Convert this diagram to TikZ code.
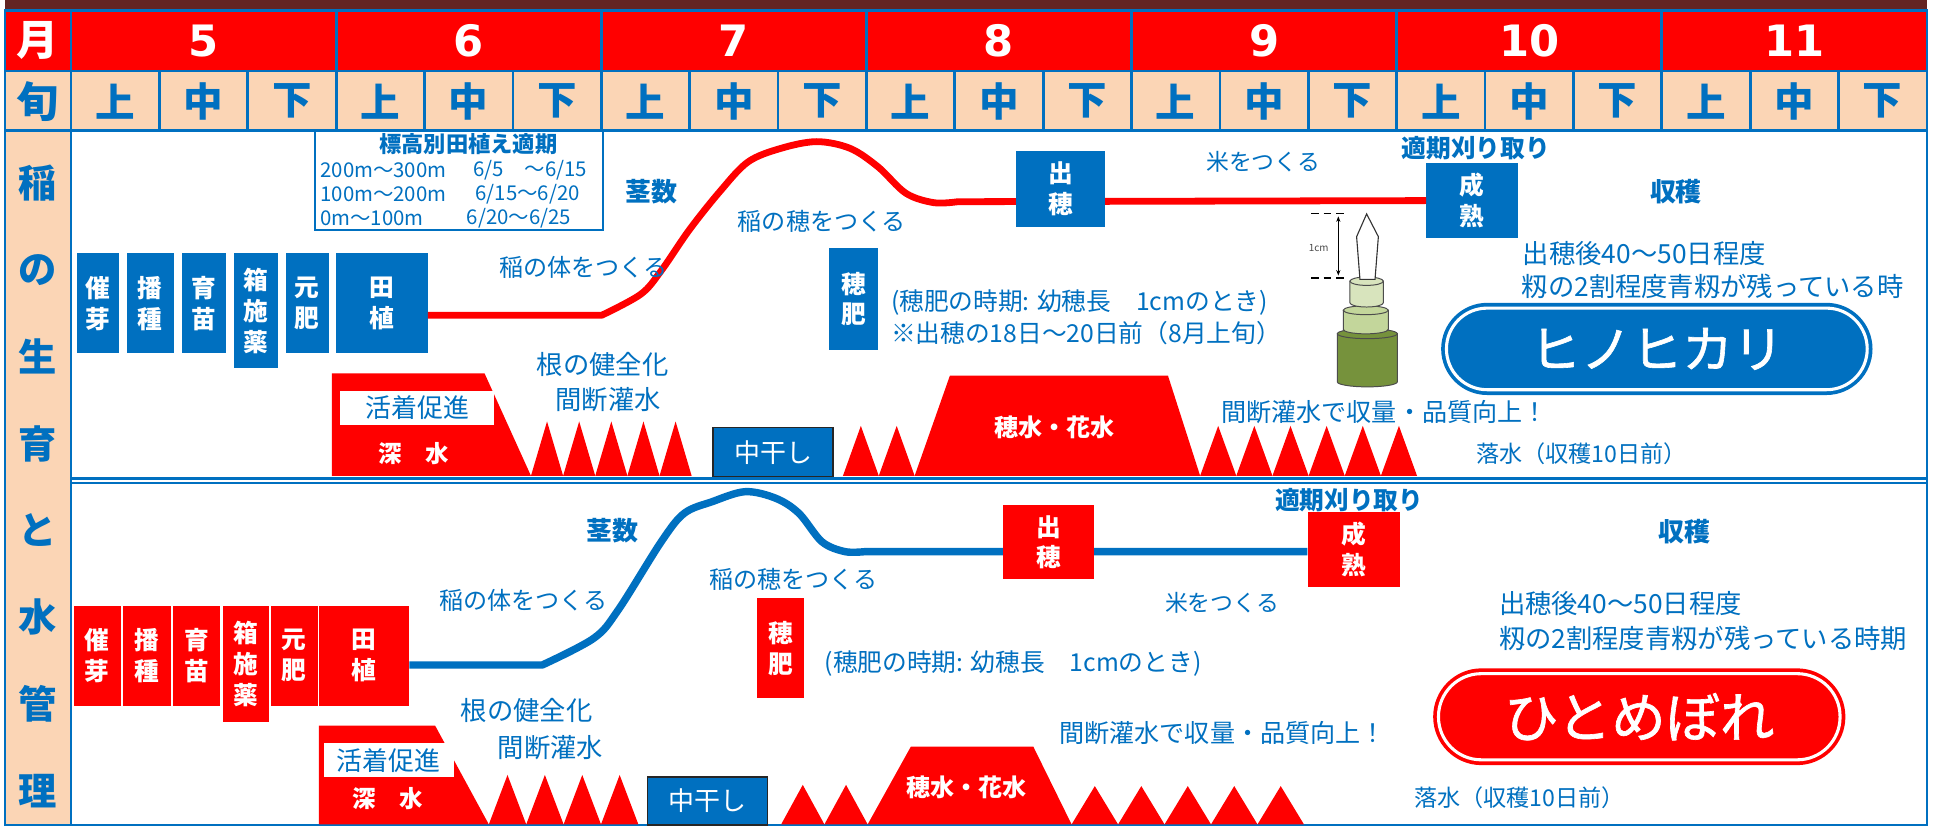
\documentclass[tikz,border=0pt]{standalone}
\usepackage{fontspec}
\setmainfont{Noto Sans CJK JP}
\newfontfamily\numfont{DejaVu Sans}
\newfontfamily\badgefont[FakeBold=1.2]{Noto Sans CJK JP}
\usetikzlibrary{positioning}
\usetikzlibrary{calc}
\usetikzlibrary{arrows.meta}

\definecolor{hblue}{RGB}{0,112,192}
\definecolor{hred}{RGB}{255,0,0}
\definecolor{peach}{RGB}{251,213,181}
\definecolor{band}{RGB}{99,36,35}
\definecolor{leafa}{RGB}{216,228,189}
\definecolor{leafb}{RGB}{195,214,155}
\definecolor{stem}{RGB}{118,146,60}

\tikzset{
  grid line/.style={draw=hblue, line width=2.2},
  monthno/.style={text=white, inner sep=0, font=\numfont\bfseries\fontsize{35}{35}\selectfont},
  head/.style={inner sep=0, font=\bfseries\fontsize{34}{34}\selectfont},
  jun/.style={text=hblue, inner sep=0, font=\bfseries\fontsize{32}{32}\selectfont},
  side/.style={text=hblue, inner sep=0, font=\bfseries\fontsize{31}{31}\selectfont},
  stage/.style={text=white, align=center, inner sep=0, font=\bfseries\fontsize{20}{25}\selectfont},
  stage1/.style={stage, fill=hblue},
  stage2/.style={stage, fill=hred},
  note/.style={text=hblue, inner sep=0, font=\fontsize{#1}{#1}\selectfont},
  note/.default=19.5,
  keynote/.style={text=hblue, inner sep=0, font=\bfseries\fontsize{#1}{#1}\selectfont},
  keynote/.default=21,
  growth1/.style={draw=hred, line width=5.5, line join=round},
  growth2/.style={draw=hblue, line width=6, line join=round},
  water/.style={fill=hred},
  dry/.style={fill=hblue, draw=black!85, line width=1.3, text=white, inner sep=0,
    font=\fontsize{21}{21}\selectfont},
  flood/.style={text=white, inner sep=0, font=\bfseries\fontsize{19.5}{19.5}\selectfont},
  rooting/.style={fill=white, text=hblue, inner sep=0, font=\fontsize{21}{21}\selectfont},
  deep/.style={text=white, inner sep=0, font=\bfseries\fontsize{19}{19}\selectfont},
  variety/.style={text=white, inner sep=0}
}

\begin{document}
\begin{tikzpicture}[x=1pt, y=-1pt]
        \useasboundingbox (0,0) rectangle (1568,669);
        \fill[white] (0,0) rectangle (1568,669);

        % Column layout
        \def\xzero{57.5}
        \def\monthw{214.5}
        \def\junw{71.5}

        % Header fills
        \fill[band] (4,0) rectangle (1559,8.5);
        \fill[hred] (4,8.5) rectangle (1559,57.5);
        \fill[peach] (4,57.5) rectangle (1559,105.5);
        \fill[peach] (4,105.5) rectangle (57.5,667.5);

        % Table lines
        \draw[grid line] (4,8.5) rectangle (1559,667.5);
        \draw[grid line] (4,57.5) -- (1559,57.5);
        \draw[grid line] (4,105.5) -- (1559,105.5);
        \draw[grid line] (\xzero,8.5) -- (\xzero,667.5);
        \foreach \i in {1,...,6} {
          \draw[grid line] ({\xzero+\i*\monthw},8.5) -- ({\xzero+\i*\monthw},57.5);
        }
        \foreach \k in {1,...,20} {
          \draw[grid line] ({\xzero+\k*\junw},57.5) -- ({\xzero+\k*\junw},105.5);
        }

        % Months and ten-day periods
        \node[head, text=white] (tsuki) at (30.5,33) {月};
        \node[head, text=hblue] (junhead) at (30.5,82) {旬};
        \foreach \m [count=\i from 0] in {5,...,11} {
          \node[monthno] (m\m) at ({\xzero+(\i+0.5)*\monthw},33) {\m};
          \foreach \s [count=\j from 0] in {上,中,下} {
            \node[jun] (j\i\j) at ({\xzero+(3*\i+\j+0.5)*\junw},82) {\s};
          }
        }

        % Side title
        \foreach \c [count=\i from 0] in {稲,の,生,育,と,水,管,理} {
          \node[side] (s\i) at (30.5,{148+70.3*\i}) {\c};
        }

        % Planting dates by altitude
        \draw[hblue, line width=2] (255,105.5) rectangle (488,186);
        \node[keynote=18] (hyoko) at (379,116.5) {標高別田植え適期};
        \node[note=16.5, anchor=west] (alt1) at (259,137.5) {200m～300m};
        \node[note=16.5, anchor=west] (day1) at (383,137.5) {6/5　～6/15};
        \node[note=16.5, anchor=west] (alt2) at (259,157) {100m～200m};
        \node[note=16.5, anchor=west] (day2) at (384.5,157) {6/15～6/20};
        \node[note=16.5, anchor=west] (alt3) at (259,176.6) {0m～100m};
        \node[note=16.5, anchor=west] (day3) at (377.5,176.6) {6/20～6/25};

        % Hinohikari stages
        \node[stage1, minimum width=34, minimum height=81] (saiga1) at (79,245.5) {催\\芽};
        \node[stage1, minimum width=38, minimum height=81] (hashu1) at (121.5,245.5) {播\\種};
        \node[stage1, minimum width=36, minimum height=81] (ikubyo1) at (165,245.5) {育\\苗};
        \node[stage1, minimum width=36, minimum height=93] (hakose1) at (207,251.5) {箱\\施\\薬};
        \node[stage1, minimum width=35, minimum height=81] (motogoe1) at (248.5,245.5) {元\\肥};
        \node[stage1, minimum width=74, minimum height=81] (taue1) at (309,245.5) {田\\植};
        \node[stage1, minimum width=74, minimum height=60.6] (seijuku1) at (1191,162.3) {成\\熟};

        % Tiller curve
        \coordinate (r1) at (487,255);
        \draw[growth1] (taue1.east |- r1) -- (r1) -- plot[smooth, tension=0.55] coordinates {
          (487,255) (518.5,238) (535,219) (557.7,186) (582.4,155) (605.2,131) (631.9,120)
          (660.8,114.6) (687.7,120) (710.4,135) (733,156.4) (755.7,164) (775,163.2)}
          -- (seijuku1.west);

        \node[stage1, minimum width=72, minimum height=61] (shussui1) at (858,153) {出\\穂};
        \node[stage1, minimum width=39, minimum height=82] (hogoe1) at (690.5,242) {穂\\肥};

        \node[keynote] (keisu1) at (527,155) {茎数};
        \node[note] (karada1) at (472,216) {稲の体をつくる};
        \node[note] (ho1) at (665,179.4) {稲の穂をつくる};
        \node[note=18.5] (kome1) at (1022,130.8) {米をつくる};
        \node[keynote=20] (tekiki1) at (1194,119.8) {適期刈り取り};
        \node[keynote] (shukaku1) at (1356,155) {収穫};
        \node[note=21.3, anchor=west] (ato1) at (1232,205) {出穂後40～50日程度};
        \node[note=21.3, anchor=west] (momi1) at (1231,232) {籾の2割程度青籾が残っている時};
        \node[note=20, anchor=west] (jiki1) at (720.7,245) {(穂肥の時期: 幼穂長　1cmのとき)};
        \node[note=20, anchor=west] (mae1) at (720.7,269.6) {※出穂の18日～20日前（8月上旬）};
        \node[note=21.3] (ne1) at (487.5,295.3) {根の健全化};
        \node[note=21.3] (kan1) at (492,323.6) {間断灌水};
        \node[note=20.3, anchor=west] (kojo1) at (988,333) {間断灌水で収量・品質向上！};
        \node[note=18.7, anchor=west] (rakusui1) at (1194,366.7) {落水（収穫10日前）};

        % Hinohikari water management
        \fill[water] (268.5,302) -- (392,302) -- (429.6,385) -- (268.5,385) -- cycle;
        \node[rooting, minimum width=125, minimum height=28] (kacchaku1) at (337.5,330) {活着促進};
        \node[deep] (fukamizu1) at (334.5,367) {深　水};
        \foreach \k in {0,...,4} {
          \fill[water] ({429.6+26*\k},385) -- ({442.6+26*\k},341) -- ({455.6+26*\k},385) -- cycle;
        }
        \node[dry, minimum width=97, minimum height=40] (nakaboshi1) at (625.5,366) {中干し};
        \foreach \k in {0,1} {
          \fill[water] ({682+29*\k},385) -- ({696.5+29*\k},344.6) -- ({711+29*\k},385) -- cycle;
        }
        \fill[water] (740,385) -- (768.5,304) -- (945,304) -- (971,385) -- cycle;
        \node[flood] (hamizu1) at (853,346) {穂水・花水};
        \foreach \k in {0,...,5} {
          \fill[water] ({971+29.25*\k},385) -- ({985.6+29.25*\k},344.6) -- ({1000.25+29.25*\k},385) -- cycle;
        }

        % Young panicle, 1cm
        \draw[line width=1.2, dash pattern=on 6 off 4] (1061,172.6) -- (1090,172.6);
        \draw[line width=1.2, dash pattern=on 6 off 4] (1061,225) -- (1090,225);
        \coordinate (cmtop) at (1082.8,175);
        \coordinate (cmbot) at (1082.8,223);
        \draw[{Stealth[length=4.5]}-{Stealth[length=4.5]}, line width=.8] (cmtop) -- (cmbot);
        \node[font=\fontsize{8}{8}\selectfont, text=black!70, inner sep=0] (cm) at (1067,200.7) {1cm};
        \filldraw[fill=stem, draw=black!70, line width=.8] (1082,270) -- (1082,309)
          arc[start angle=180, end angle=0, x radius=24.25, y radius=4] -- (1130.5,270) -- cycle;
        \filldraw[fill=stem, draw=black!70, line width=.8] (1106.25,270) ellipse[x radius=24.25, y radius=4];
        \filldraw[fill=leafb, draw=black!70, line width=.8] (1086.8,251) -- (1086.8,266.5)
          arc[start angle=180, end angle=0, x radius=18.2, y radius=3.6] -- (1123.2,251) -- cycle;
        \filldraw[fill=leafb, draw=black!70, line width=.8] (1105,251) ellipse[x radius=18.2, y radius=3.6];
        \filldraw[fill=leafa, draw=black!70, line width=.8] (1092.2,227.5) -- (1092.2,245)
          arc[start angle=180, end angle=0, x radius=13.5, y radius=3.4] -- (1119.2,227.5) -- cycle;
        \filldraw[fill=leafa, draw=black!70, line width=.8] (1105.7,227.5) ellipse[x radius=13.5, y radius=3.4];
        \filldraw[fill=white, draw=black!80, line width=.9] (1105.7,173.1) -- (1097.6,191.5) -- (1100.3,226)
          -- (1112.5,226) -- (1115.2,191.5) -- cycle;

        % Variety badge
        \node[variety, fill=hblue, minimum width=349, minimum height=74.6, rounded corners=37.3,
          font=\badgefont\fontsize{41}{41}\selectfont] (hinohikari) at (1340.5,282.3) {ヒノヒカリ};
        \draw[white, line width=2.5, rounded corners=32.8] ([shift={(4.5,4.5)}]hinohikari.north west)
          rectangle ([shift={(-4.5,-4.5)}]hinohikari.south east);

        % Divider
        \draw[hblue, line width=2] (\xzero,387) -- (1559,387);
        \draw[hblue, line width=1.3] (\xzero,390.8) -- (1559,390.8);

        % Hitomebore stages
        \node[stage2, minimum width=38, minimum height=81] (saiga2) at (78.5,530.5) {催\\芽};
        \node[stage2, minimum width=38.5, minimum height=81] (hashu2) at (118.7,530.5) {播\\種};
        \node[stage2, minimum width=38, minimum height=81] (ikubyo2) at (159,530.5) {育\\苗};
        \node[stage2, minimum width=37.5, minimum height=94] (hakose2) at (198.8,537) {箱\\施\\薬};
        \node[stage2, minimum width=38, minimum height=81] (motogoe2) at (238,530.5) {元\\肥};
        \node[stage2, minimum width=73, minimum height=81] (taue2) at (294.5,530.5) {田\\植};
        \node[stage2, minimum width=74.7, minimum height=60.6] (seijuku2) at (1095.4,444.3) {成\\熟};

        % Tiller curve
        \coordinate (b1) at (438.8,538);
        \coordinate (b2) at (700,446.3);
        \draw[growth2] (taue2.east |- b1) -- (b1) -- plot[smooth, tension=0.55] coordinates {
          (438.8,538) (480.4,516.4) (500.2,493.5) (535,438.3) (553.6,415.3) (576.2,405.9)
          (603,397.8) (627.8,403.2) (646.4,415.3) (665,438.3) (683.6,446.3) (700,446.3)}
          -- (seijuku2.west |- b2);

        \node[stage2, minimum width=73.5, minimum height=60] (shussui2) at (848.3,438.7) {出\\穂};
        \node[stage2, minimum width=38, minimum height=81] (hogoe2) at (631.5,524.5) {穂\\肥};

        \node[keynote] (keisu2) at (495.5,429) {茎数};
        \node[note] (karada2) at (423.5,485.4) {稲の体をつくる};
        \node[note] (ho2) at (642,469) {稲の穂をつくる};
        \node[note=18.5] (kome2) at (988.7,488) {米をつくる};
        \node[keynote=20] (tekiki2) at (1091.6,404.5) {適期刈り取り};
        \node[keynote] (shukaku2) at (1363,430) {収穫};
        \node[note=21.3, anchor=west] (ato2) at (1212.6,488) {出穂後40～50日程度};
        \node[note=21.3, anchor=west] (momi2) at (1212.6,516.4) {籾の2割程度青籾が残っている時期};
        \node[note=20, anchor=west] (jiki2) at (667,536.5) {(穂肥の時期: 幼穂長　1cmのとき)};
        \node[note=21.3] (ne2) at (426,574.5) {根の健全化};
        \node[note=21.3] (kan2) at (445.5,605) {間断灌水};
        \node[note=20.3, anchor=west] (kojo2) at (857,593) {間断灌水で収量・品質向上！};
        \node[note=18.7, anchor=west] (rakusui2) at (1144,645.8) {落水（収穫10日前）};

        % Hitomebore water management
        \fill[water] (258,587) -- (352,587) -- (395.5,667) -- (258,667) -- cycle;
        \node[rooting, minimum width=105, minimum height=28] (kacchaku2) at (314.5,615) {活着促進};
        \node[deep] (fukamizu2) at (314,646) {深　水};
        \foreach \k in {0,...,3} {
          \fill[water] ({395.5+30.25*\k},667) -- ({410.6+30.25*\k},627) -- ({425.75+30.25*\k},667) -- cycle;
        }
        \node[dry, minimum width=97, minimum height=39] (nakaboshi2) at (572.5,648) {中干し};
        \foreach \k in {0,1} {
          \fill[water] ({632+35*\k},667) -- ({649.5+35*\k},635) -- ({667+35*\k},667) -- cycle;
        }
        \fill[water] (702,667) -- (737,604) -- (836,604) -- (867,667) -- cycle;
        \node[flood] (hamizu2) at (782,637) {穂水・花水};
        \foreach \k in {0,...,4} {
          \fill[water] ({867+37.6*\k},667) -- ({885.8+37.6*\k},636) -- ({904.6+37.6*\k},667) -- cycle;
        }

        % Variety badge
        \node[variety, fill=hred, minimum width=333.5, minimum height=78.3, rounded corners=39.1,
          font=\badgefont\fontsize{44}{44}\selectfont] (hitomebore) at (1326.3,579.9) {ひとめぼれ};
        \draw[white, line width=2.5, rounded corners=34.6] ([shift={(4.5,4.5)}]hitomebore.north west)
          rectangle ([shift={(-4.5,-4.5)}]hitomebore.south east);

      \end{tikzpicture}
\end{document}
